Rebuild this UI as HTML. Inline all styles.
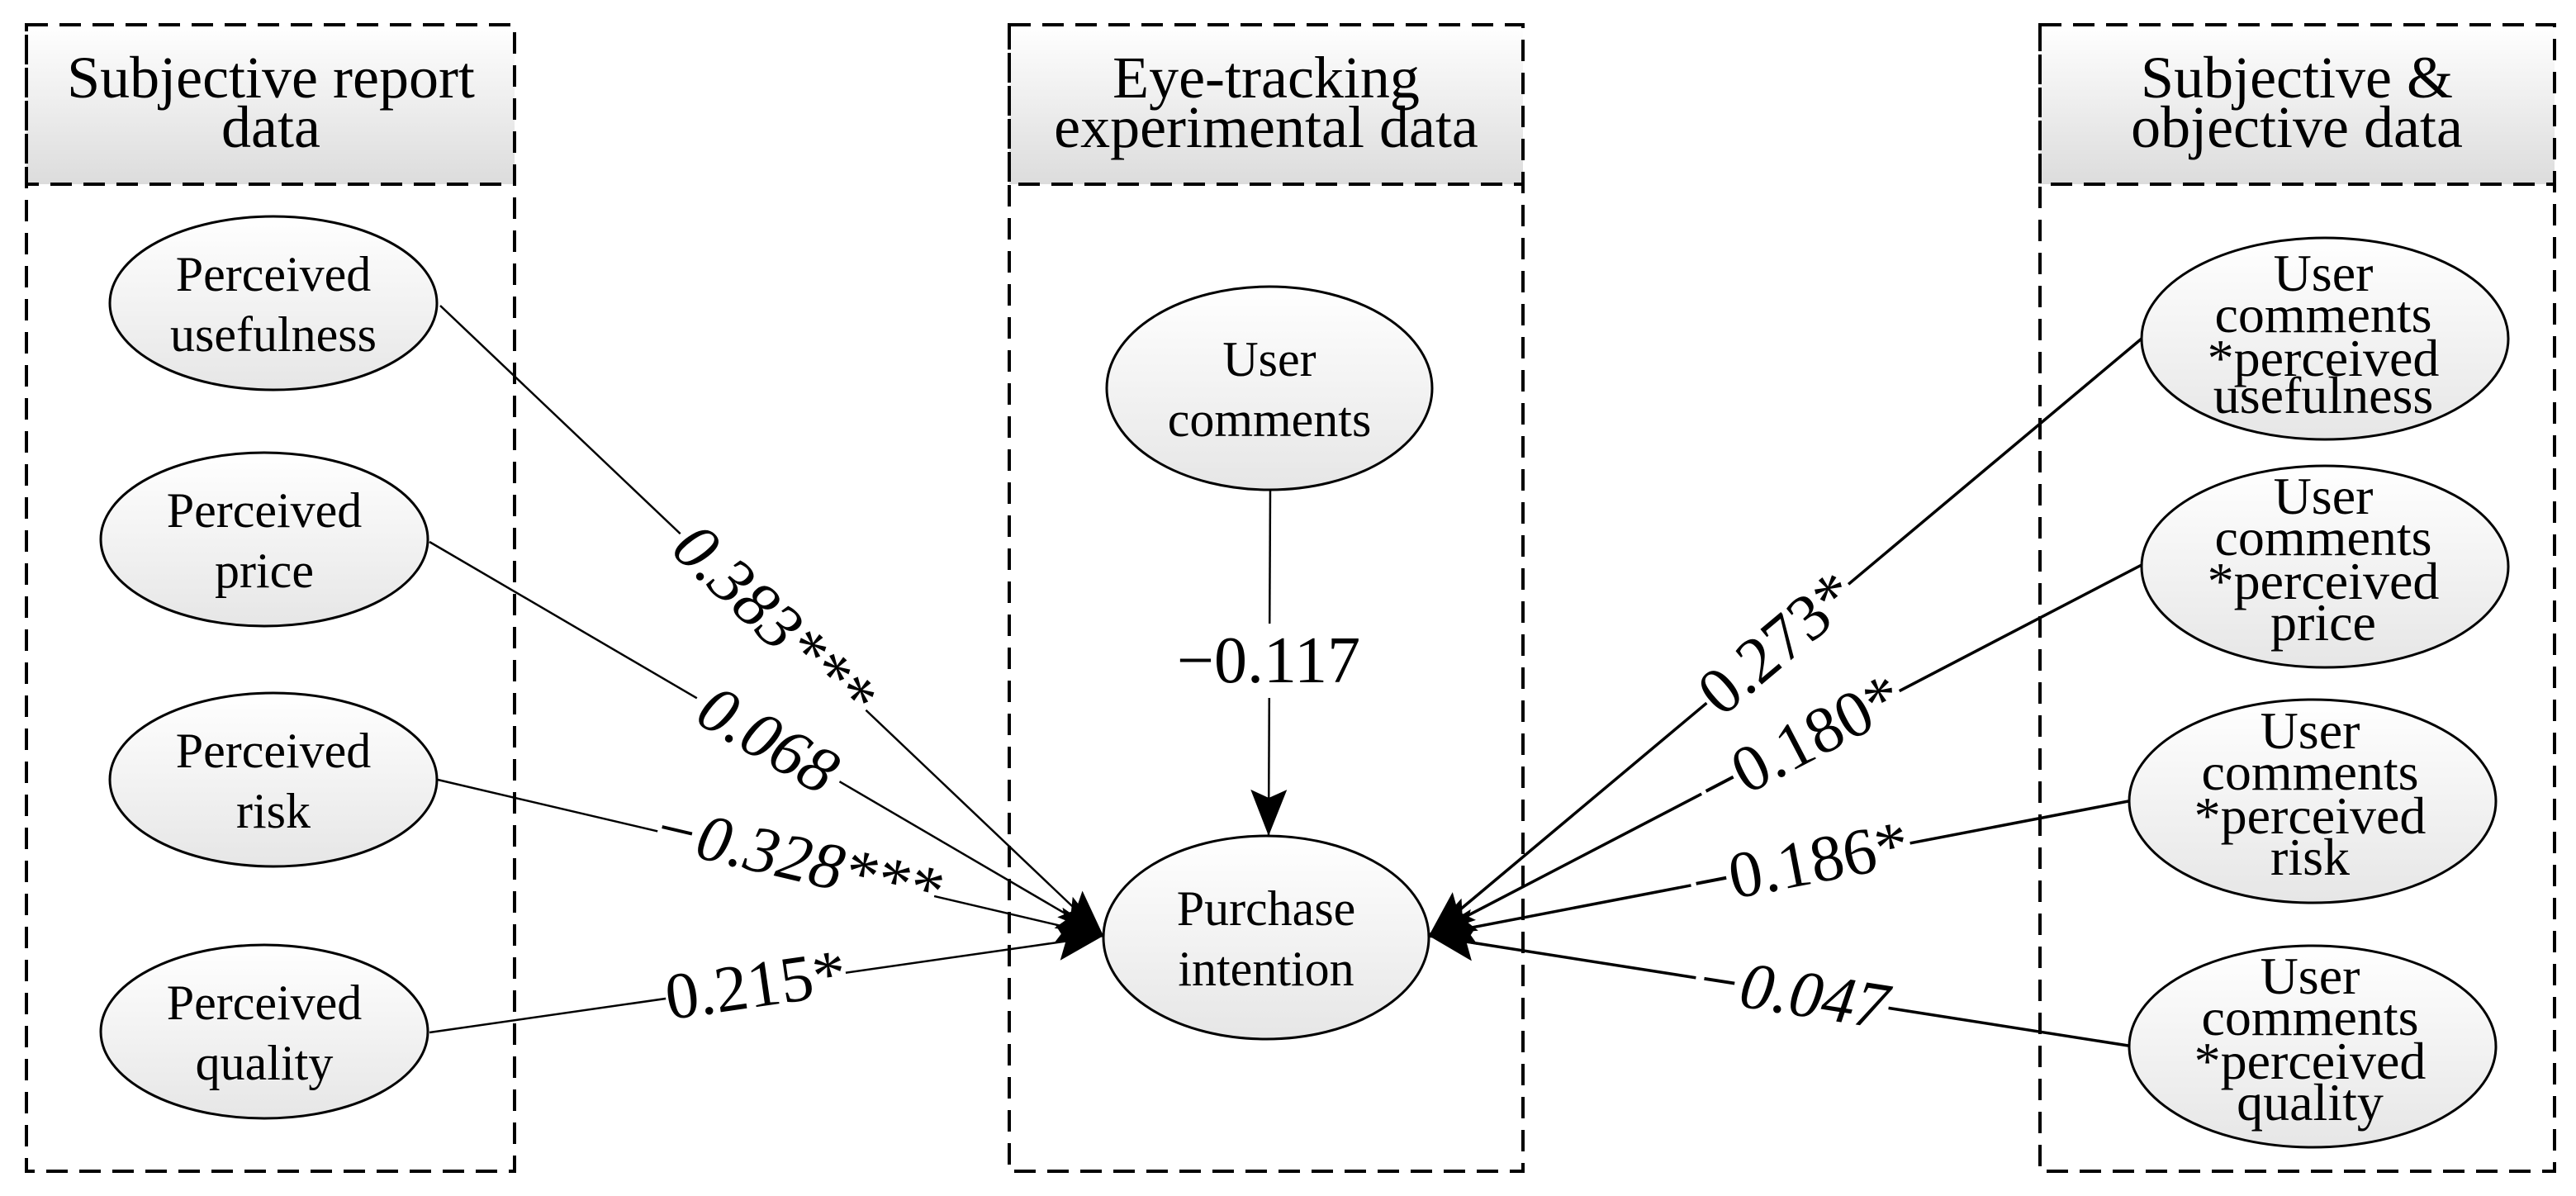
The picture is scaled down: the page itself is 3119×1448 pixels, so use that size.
<!DOCTYPE html>
<html><head><meta charset="utf-8"><style>
html,body{margin:0;padding:0;background:#fff;}
svg{display:block;}
text{font-family:"Liberation Serif",serif;}
</style></head><body>
<svg width="3119" height="1448" viewBox="0 0 3119 1448" xmlns="http://www.w3.org/2000/svg">
<defs>
<linearGradient id="hg" x1="0" y1="0" x2="0" y2="1"><stop offset="0" stop-color="#ffffff"/><stop offset="1" stop-color="#dcdcdc"/></linearGradient>
<linearGradient id="eg" x1="0" y1="0" x2="0" y2="1"><stop offset="0" stop-color="#ffffff"/><stop offset="1" stop-color="#e6e6e6"/></linearGradient>
<marker id="ar" markerUnits="userSpaceOnUse" markerWidth="60" markerHeight="50" refX="56" refY="22" orient="auto"><path d="M0,0 L56,22 L0,44 L10,22 Z" fill="#000"/></marker>
</defs>
<g stroke="#000" stroke-width="4" stroke-dasharray="26,14" fill="none">
<rect x="32" y="30" width="591" height="193" fill="url(#hg)"/>
<rect x="32" y="30" width="591" height="1388"/>
<rect x="1222" y="30" width="622" height="193" fill="url(#hg)"/>
<rect x="1222" y="30" width="622" height="1388"/>
<rect x="2470" y="30" width="623" height="193" fill="url(#hg)"/>
<rect x="2470" y="30" width="623" height="1388"/>
</g>
<g font-size="72" text-anchor="middle" fill="#000">
<text x="328" y="118">Subjective report</text><text x="328" y="178">data</text>
<text x="1533" y="118">Eye-tracking</text><text x="1533" y="178">experimental data</text>
<text x="2781" y="118">Subjective &amp;</text><text x="2781" y="178">objective data</text>
</g>
<g stroke="#000" fill="none">
<line x1="533" y1="370" x2="1336" y2="1133" stroke-width="2.5" marker-end="url(#ar)"/>
<line x1="520" y1="656" x2="1336" y2="1133" stroke-width="2.5" marker-end="url(#ar)"/>
<line x1="530" y1="944" x2="1336" y2="1133" stroke-width="2.5" marker-end="url(#ar)"/>
<line x1="520" y1="1250" x2="1336" y2="1133" stroke-width="2.5" marker-end="url(#ar)"/>
<line x1="1538" y1="593" x2="1536" y2="1012" stroke-width="2.5" marker-end="url(#ar)"/>
<line x1="2593" y1="410" x2="1730" y2="1133" stroke-width="3.5" marker-end="url(#ar)"/>
<line x1="2593" y1="684" x2="1730" y2="1133" stroke-width="3.5" marker-end="url(#ar)"/>
<line x1="2577" y1="970" x2="1730" y2="1133" stroke-width="3.5" marker-end="url(#ar)"/>
<line x1="2577" y1="1266" x2="1730" y2="1133" stroke-width="3.5" marker-end="url(#ar)"/>
</g>
<!-- white masks behind labels -->
<g fill="#fff">
<rect x="-155" y="-32" width="310" height="64" transform="translate(937,752) rotate(43.5)"/>
<rect x="-100" y="-32" width="200" height="64" transform="translate(930,896) rotate(30.3)"/>
<rect x="-172" y="-32" width="344" height="64" transform="translate(965,1040) rotate(13.2)"/>
<rect x="-110" y="-32" width="220" height="64" transform="translate(915,1193) rotate(-8.2)"/>
<rect x="-112" y="-45" width="224" height="90" transform="translate(1536,800)"/>
<rect x="-112" y="-32" width="224" height="64" transform="translate(2152,779) rotate(-39.9)"/>
<rect x="-135" y="-32" width="270" height="64" transform="translate(2180,899) rotate(-27.5)"/>
<rect x="-135" y="-32" width="270" height="64" transform="translate(2180,1046) rotate(-10.9)"/>
<rect x="-118" y="-32" width="236" height="64" transform="translate(2170,1202) rotate(8.9)"/>
</g>
<g stroke="#000" stroke-width="3" fill="url(#eg)">
<ellipse cx="331" cy="367" rx="198" ry="105"/>
<ellipse cx="320" cy="653" rx="198" ry="105"/>
<ellipse cx="331" cy="944" rx="198" ry="105"/>
<ellipse cx="320" cy="1249" rx="198" ry="105"/>
<ellipse cx="1537" cy="470" rx="197" ry="123"/>
<ellipse cx="1533" cy="1135" rx="197" ry="123"/>
<ellipse cx="2815" cy="410" rx="222" ry="122"/>
<ellipse cx="2815" cy="686" rx="222" ry="122"/>
<ellipse cx="2800" cy="970" rx="222" ry="123"/>
<ellipse cx="2800" cy="1267" rx="222" ry="122"/>
</g>
<g font-size="60" text-anchor="middle" fill="#000">
<text x="331" y="352">Perceived</text><text x="331" y="425">usefulness</text>
<text x="320" y="638">Perceived</text><text x="320" y="711">price</text>
<text x="331" y="929">Perceived</text><text x="331" y="1002">risk</text>
<text x="320" y="1234">Perceived</text><text x="320" y="1307">quality</text>
<text x="1537" y="455">User</text><text x="1537" y="528">comments</text>
<text x="1533" y="1120">Purchase</text><text x="1533" y="1193">intention</text>
</g>
<g font-size="64" text-anchor="middle" fill="#000">
<text x="2813" y="352">User</text><text x="2813" y="402">comments</text><text x="2813" y="455">*perceived</text><text x="2813" y="500">usefulness</text>
<text x="2813" y="622">User</text><text x="2813" y="672">comments</text><text x="2813" y="725">*perceived</text><text x="2813" y="775">price</text>
<text x="2797" y="906">User</text><text x="2797" y="956">comments</text><text x="2797" y="1009">*perceived</text><text x="2797" y="1059">risk</text>
<text x="2797" y="1203">User</text><text x="2797" y="1253">comments</text><text x="2797" y="1306">*perceived</text><text x="2797" y="1356">quality</text>
</g>
<g font-size="80" text-anchor="middle" dominant-baseline="central" fill="#000">
<text transform="translate(937,752) rotate(43.5)" font-style="italic">0.383***</text>
<text transform="translate(930,896) rotate(30.3)" font-style="italic">0.068</text>
<text transform="translate(965,1040) rotate(13.2)" font-style="italic">−0.328***</text>
<text transform="translate(915,1193) rotate(-8.2)">0.215*</text>
<text x="1536" y="800">−0.117</text>
<text transform="translate(2152,779) rotate(-39.9)">0.273*</text>
<text transform="translate(2180,899) rotate(-27.5)">−0.180*</text>
<text transform="translate(2180,1046) rotate(-10.9)">−0.186*</text>
<text transform="translate(2170,1202) rotate(8.9)" font-style="italic">−0.047</text>
</g>
</svg>
</body></html>
